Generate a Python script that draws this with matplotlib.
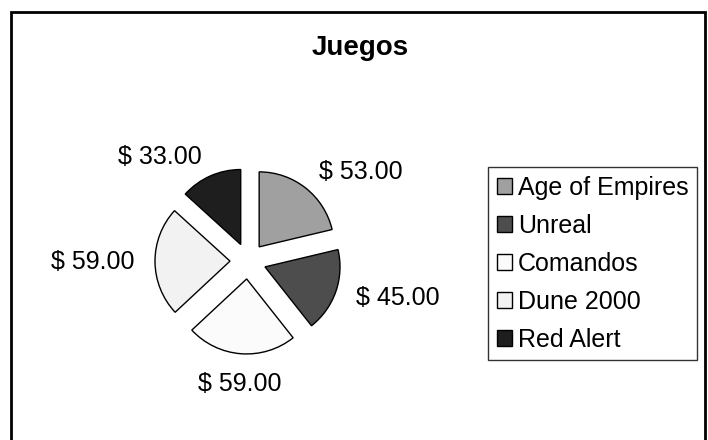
import matplotlib
matplotlib.use("Agg")
import matplotlib.pyplot as plt
from matplotlib.patches import Rectangle

plt.rcParams['font.family'] = ['Liberation Sans', 'DejaVu Sans']

# data
games = ["Age of Empires", "Unreal", "Comandos", "Dune 2000", "Red Alert"]
prices = [53.0, 45.0, 59.0, 59.0, 33.0]
colors = ["#a0a0a0", "#4d4d4d", "#fbfbfb", "#f2f2f2", "#1e1e1e"]

W, H = 708, 440
fig = plt.figure(figsize=(W / 100, H / 100), dpi=100)

# outer chart frame (bottom runs off the picture)
fig.patches.append(Rectangle((11 / W, -0.05), (705 - 11) / W, 1.05 - 12 / H,
                             transform=fig.transFigure, fill=False,
                             edgecolor="black", linewidth=2))

fig.text(360 / W, 1 - 48 / H, "Juegos", ha="center", va="center",
         fontsize=20, fontweight="bold")

# pie axes: center at px (248, 261), radius 75 px
R = 75.0
half = 200.0
ax = fig.add_axes([(248 - half) / W, (H - 261 - half) / H, 2 * half / W, 2 * half / H])
labels = [r"\$ %.2f" % p for p in prices]
wedges, texts = ax.pie(prices, colors=colors, startangle=90, counterclock=False,
                       explode=[18 / R] * len(prices), labels=labels,
                       labeldistance=1.28,
                       wedgeprops=dict(edgecolor="black", linewidth=1),
                       textprops=dict(fontsize=18))
for t in texts:
    x, y = t.get_position()
    if abs(x) < 0.3:
        t.set_ha("center")
        t.set_va("top")
        t.set_position((x, y + 0.03))
ax.set_xlim(-half / R, half / R)
ax.set_ylim(-half / R, half / R)
ax.set_aspect("equal")
ax.axis("off")

leg = fig.legend(wedges, games, loc="upper left",
                 bbox_to_anchor=(488 / W, 1 - 167 / H), fontsize=18,
                 frameon=True, fancybox=False, shadow=False,
                 handlelength=0.6, handleheight=0.6, handletextpad=0.25,
                 labelspacing=0.56, borderpad=0.35, borderaxespad=0)
leg.get_frame().set_edgecolor("black")
leg.get_frame().set_linewidth(1)

fig.savefig("out.png", dpi=100)
